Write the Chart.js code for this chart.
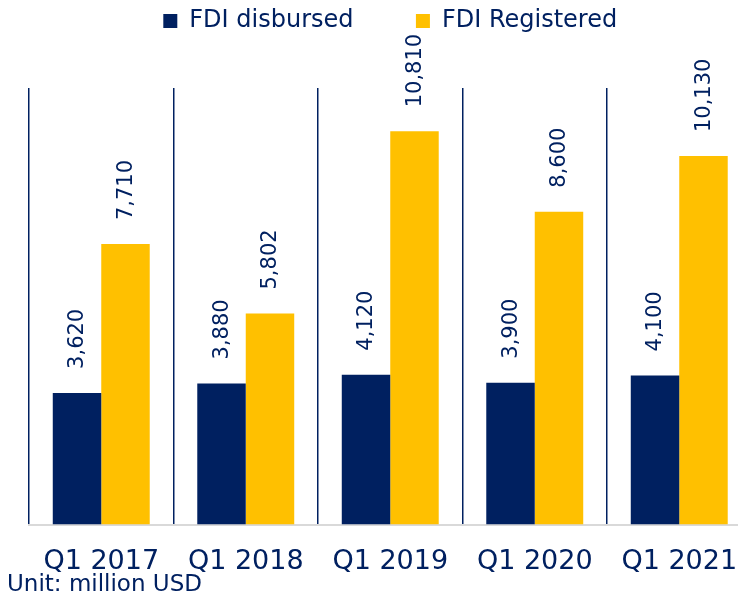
<!DOCTYPE html>
<html>
<head>
<meta charset="utf-8">
<script src="https://cdn.jsdelivr.net/npm/chart.js@4"></script>
<style>
  body { margin: 0; overflow: hidden; background: #fff; }
  #wrap { position: relative; width: 760px; height: 596px; }
  #unit { position: absolute; left: 7px; top: 572px; font: 23px/23px "DejaVu Sans", sans-serif; color: #002060; }
</style>
</head>
<body>
<div id="wrap">
  <canvas id="chart_fdi"></canvas>
  <div id="unit">Unit: million USD</div>
</div>
<script>
const quarters = ['Q1 2017', 'Q1 2018', 'Q1 2019', 'Q1 2020', 'Q1 2021'];
const disbursed = [3620, 3880, 4120, 3900, 4100];
const registered = [7710, 5802, 10810, 8600, 10130];

const navy = '#002060';
const gold = '#FFC000';

// value labels, rotated, just above each bar
const barLabels = {
    id: 'barLabels',
    afterDatasetsDraw(chart) {
        const ctx = chart.ctx;
        ctx.save();
        ctx.fillStyle = navy;
        ctx.font = '21px "DejaVu Sans"';
        ctx.textAlign = 'left';
        ctx.textBaseline = 'middle';
        chart.data.datasets.forEach((ds, i) => {
            chart.getDatasetMeta(i).data.forEach((bar, j) => {
                ctx.save();
                ctx.translate(bar.x + 1, bar.y - 24);
                ctx.rotate(-Math.PI / 2);
                ctx.fillText(ds.data[j].toLocaleString('en-US'), 0, 0);
                ctx.restore();
            });
        });
        ctx.restore();
    }
};

// leave room under the legend so the plot starts lower
const legendSpace = {
    id: 'legendSpace',
    beforeInit(chart) {
        const fit = chart.legend.fit;
        chart.legend.fit = function () {
            fit.bind(chart.legend)();
            this.height = 88;
        };
    }
};

new Chart(document.getElementById('chart_fdi'), {
    type: 'bar',
    data: {
        labels: quarters,
        datasets: [
            { label: 'FDI disbursed', data: disbursed, backgroundColor: navy },
            { label: 'FDI Registered', data: registered, backgroundColor: gold }
        ]
    },
    plugins: [barLabels, legendSpace],
    options: {
        responsive: true,
        maintainAspectRatio: false,
        animation: false,
        datasets: {
            bar: { categoryPercentage: 0.671, barPercentage: 1 }
        },
        layout: {
            padding: { left: 29, right: 8.5, top: 0, bottom: -3 }
        },
        scales: {
            x: {
                grid: { display: true, color: navy, lineWidth: 1.5, drawTicks: false, offset: true },
                border: { color: '#d9d9d9', width: 2 },
                ticks: {
                    color: navy,
                    padding: 21,
                    maxRotation: 0,
                    font: { family: 'DejaVu Sans', size: 27 }
                }
            },
            y: {
                display: false,
                min: 0,
                max: 12000
            }
        },
        plugins: {
            legend: {
                display: true,
                position: 'top',
                labels: {
                    color: navy,
                    boxWidth: 14,
                    boxHeight: 14,
                    padding: 9,
                    font: { family: 'DejaVu Sans', size: 24 },
                    generateLabels(chart) {
                        const items = Chart.defaults.plugins.legend.labels.generateLabels(chart);
                        items[0].text += '       ';
                        return items;
                    }
                }
            },
            tooltip: { enabled: false }
        }
    }
});
</script>
</body>
</html>
